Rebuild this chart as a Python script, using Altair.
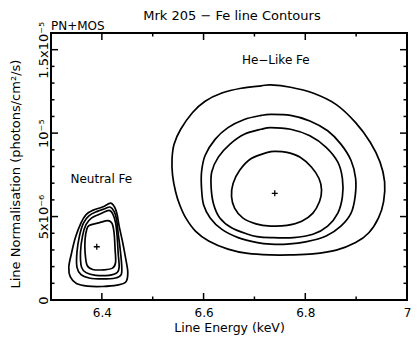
import altair as alt
import pandas as pd

# ---- data: energy in keV, normalisation in 1e-6 photons/cm^2/s ----
he_outer_energy = [6.713, 6.732, 6.771, 6.815, 6.861, 6.899, 6.928, 6.947, 6.956, 6.954, 6.944, 6.925,
                   6.899, 6.861, 6.815, 6.771, 6.732, 6.687, 6.648, 6.610, 6.584, 6.565, 6.553, 6.545,
                   6.539, 6.538, 6.542, 6.555, 6.578, 6.603, 6.636, 6.674]
he_outer_norm = [12.83, 12.89, 12.75, 12.40, 11.71, 10.63, 9.44, 8.26, 7.08, 5.90, 4.92, 4.03,
                 3.44, 2.99, 2.76, 2.70, 2.70, 2.79, 3.05, 3.54, 4.13, 4.92, 5.71, 6.49,
                 7.48, 8.46, 9.34, 10.23, 11.22, 11.91, 12.40, 12.69]

he_2_energy = [6.713, 6.732, 6.771, 6.809, 6.844, 6.870, 6.890, 6.899, 6.898, 6.890, 6.870, 6.841,
               6.803, 6.764, 6.732, 6.706, 6.668, 6.636, 6.613, 6.600, 6.596, 6.596, 6.603, 6.623,
               6.648, 6.680]
he_2_norm = [11.06, 11.12, 11.06, 10.73, 10.14, 9.34, 8.36, 7.28, 6.20, 5.21, 4.43, 3.84,
             3.50, 3.35, 3.35, 3.44, 3.74, 4.23, 4.92, 5.71, 6.69, 7.67, 8.66, 9.64,
             10.33, 10.82]

he_3_energy = [6.713, 6.732, 6.771, 6.809, 6.841, 6.864, 6.873, 6.873, 6.864, 6.844, 6.815, 6.777,
               6.732, 6.705, 6.687, 6.655, 6.632, 6.620, 6.615, 6.616, 6.629, 6.652, 6.680]
he_3_norm = [10.23, 10.33, 10.23, 9.84, 9.15, 8.26, 7.28, 6.20, 5.21, 4.43, 3.94, 3.74,
             3.74, 3.80, 3.94, 4.33, 4.92, 5.71, 6.69, 7.67, 8.56, 9.34, 9.93]

he_inner_energy = [6.693, 6.726, 6.742, 6.764, 6.790, 6.812, 6.827, 6.832, 6.828, 6.815, 6.793,
                   6.764, 6.732, 6.703, 6.677, 6.661, 6.655, 6.658, 6.671]
he_inner_norm = [8.46, 8.85, 8.91, 8.85, 8.56, 7.97, 7.28, 6.59, 5.90, 5.21, 4.72,
                 4.47, 4.43, 4.56, 4.92, 5.51, 6.20, 6.98, 7.77]

ne_outer_energy = [6.417, 6.425, 6.430, 6.434, 6.441, 6.447, 6.451, 6.447, 6.430, 6.401, 6.372,
                   6.350, 6.338, 6.335, 6.340, 6.348, 6.359, 6.369, 6.382, 6.401]
ne_outer_norm = [5.80, 5.57, 5.12, 4.43, 3.44, 2.46, 1.64, 1.08, 0.89, 0.81, 0.83,
                 0.99, 1.38, 1.97, 2.76, 3.74, 4.62, 5.12, 5.37, 5.57]

ne_2_energy = [6.416, 6.424, 6.429, 6.432, 6.436, 6.439, 6.438, 6.427, 6.401, 6.375, 6.359,
               6.351, 6.351, 6.356, 6.364, 6.375, 6.391, 6.406]
ne_2_norm = [5.57, 5.31, 4.82, 4.03, 3.05, 2.07, 1.52, 1.32, 1.26, 1.32, 1.52,
             1.97, 2.85, 3.84, 4.62, 5.06, 5.31, 5.47]

ne_3_energy = [6.414, 6.422, 6.427, 6.430, 6.432, 6.434, 6.430, 6.414, 6.388, 6.369, 6.360,
               6.358, 6.362, 6.369, 6.380, 6.394]
ne_3_norm = [5.37, 5.12, 4.62, 3.84, 2.85, 1.97, 1.64, 1.48, 1.48, 1.64, 1.97,
             2.85, 3.84, 4.53, 4.92, 5.12]

ne_inner_energy = [6.375, 6.394, 6.412, 6.420, 6.424, 6.426, 6.427, 6.421, 6.404, 6.382, 6.371,
                   6.367, 6.367, 6.370]
ne_inner_norm = [4.47, 4.62, 4.76, 4.59, 4.03, 3.05, 2.26, 1.91, 1.81, 1.83, 2.07,
                 2.85, 3.64, 4.19]

best_energy = [6.390, 6.740]
best_norm = [3.19, 6.39]

label_text = ["He\u2212Like Fe", "Neutral Fe"]
label_energy = [6.742, 6.399]
label_norm = [14.17, 7.02]

x_major_ticks = [6.4, 6.6, 6.8]
x_minor_ticks = [6.5, 6.7, 6.9]
x_tick_labels = [6.4, 6.6, 6.8, 7.0]
y_major_ticks = [5, 10, 15]
y_minor_ticks = [1, 2, 3, 4, 6, 7, 8, 9, 11, 12, 13, 14]
y_tick_labels = [0, 5, 10, 15]

title_text = "Mrk 205 \u2212 Fe line Contours"
corner_text = "PN+MOS"

E6 = 1e-6
FONT = "DejaVu Sans"

# ---- tables ----
contours = [
    ("he_outer", he_outer_energy, he_outer_norm),
    ("he_2", he_2_energy, he_2_norm),
    ("he_3", he_3_energy, he_3_norm),
    ("he_inner", he_inner_energy, he_inner_norm),
    ("ne_outer", ne_outer_energy, ne_outer_norm),
    ("ne_2", ne_2_energy, ne_2_norm),
    ("ne_3", ne_3_energy, ne_3_norm),
    ("ne_inner", ne_inner_energy, ne_inner_norm),
]
rows = []
for cid, es, ns in contours:
    for i, (e, n) in enumerate(zip(es, ns)):
        rows.append({"contour": cid, "idx": i, "energy": e, "norm": n * E6})
contour_df = pd.DataFrame(rows)

best_df = pd.DataFrame({"energy": best_energy, "norm": [n * E6 for n in best_norm]})
label_df = pd.DataFrame({"energy": label_energy, "norm": [n * E6 for n in label_norm], "text": label_text})

# whole svg must stay within 403 x 327 (page 419x343 with 8px margins)
PAD_L, PAD_T, PAD_R, PAD_B = 43, 25, 4, 35
W, H = 356, 267
xs = alt.Scale(domain=[6.3, 7.0], nice=False, zero=False)
ys = alt.Scale(domain=[0, 1.6e-5], nice=False, zero=False)

x_axis = alt.Axis(
    values=x_tick_labels, format=".1~f", grid=False, domain=False, ticks=False, tickSize=0,
    labelFlush=False, labelOverlap=False, labelPadding=16, labelBaseline="alphabetic",
    labelFontSize=12, labelFont=FONT, labelColor="black",
    title="Line Energy (keV)", titleFont=FONT, titleFontSize=12.5, titleFontWeight="normal",
    titleColor="black", titleY=31, titleBaseline="alphabetic",
)
y_axis = alt.Axis(
    values=[v * E6 for v in y_tick_labels], grid=False, domain=False, ticks=False, tickSize=0,
    labelExpr="datum.value < 1e-7 ? '0' : datum.value < 7e-6 ? '5x10\u207b\u2076' : datum.value < 1.2e-5 ? '10\u207b\u2075' : '1.5x10\u207b\u2075'",
    labelFlush=False, labelOverlap=False, labelAngle=270, labelAlign="center",
    labelBaseline="alphabetic", labelPadding=4, labelFontSize=13, labelFont=FONT, labelColor="black",
    title="Line Normalisation (photons/cm\u00b2/s)", titleFont=FONT, titleFontSize=13,
    titleFontWeight="normal", titleColor="black", titleAngle=270, titleAlign="left",
    titleBaseline="alphabetic", titleX=-32, titleY=255,
)

X = alt.X("energy:Q", scale=xs, axis=x_axis)
Y = alt.Y("norm:Q", scale=ys, axis=y_axis)

lines = alt.Chart(contour_df).mark_line(
    color="black", strokeWidth=1.7, interpolate="cardinal-closed"
).encode(x=X, y=Y, detail="contour:N", order="idx:Q")

plus = alt.Chart(best_df).mark_point(
    shape="M-1,0L1,0M0,-1L0,1", size=36, filled=False, color="black", strokeWidth=1.3, opacity=1
).encode(x=X, y=Y)

labels = alt.Chart(label_df).mark_text(
    font=FONT, fontSize=12, color="black", align="center", baseline="alphabetic"
).encode(x=X, y=Y, text="text:N")

def xticks(vals, length):
    d = pd.DataFrame({"energy": vals})
    base = alt.Chart(d).mark_rule(color="black", strokeWidth=1.5)
    bottom = base.encode(x=X, y=alt.value(H), y2=alt.value(H - length))
    top = base.encode(x=X, y=alt.value(0), y2=alt.value(length))
    return [bottom, top]

def yticks(vals, length):
    d = pd.DataFrame({"norm": [v * E6 for v in vals]})
    base = alt.Chart(d).mark_rule(color="black", strokeWidth=1.5)
    left = base.encode(y=Y, x=alt.value(0), x2=alt.value(length))
    right = base.encode(y=Y, x=alt.value(W), x2=alt.value(W - length))
    return [left, right]

tick_layers = xticks(x_major_ticks, 7) + xticks(x_minor_ticks, 3.5) + yticks(y_major_ticks, 7) + yticks(y_minor_ticks, 3.5)

one = pd.DataFrame({"t": [0]})
title = alt.Chart(one).mark_text(
    text=title_text, font=FONT, fontSize=13, color="black", align="center", baseline="alphabetic"
).encode(x=alt.value(W / 2 + 3), y=alt.value(-13))
corner = alt.Chart(one).mark_text(
    text=corner_text, font=FONT, fontSize=12, color="black", align="left", baseline="alphabetic"
).encode(x=alt.value(0), y=alt.value(-3))

chart = alt.layer(lines, plus, labels, *tick_layers, title, corner).properties(
    width=W, height=H,
    autosize=alt.AutoSizeParams(type="none"),
    padding={"left": PAD_L, "top": PAD_T, "right": PAD_R, "bottom": PAD_B},
    background="white",
).configure_view(stroke="black", strokeWidth=2)

chart.save("out.html", embed_options={"renderer": "svg", "actions": False})
